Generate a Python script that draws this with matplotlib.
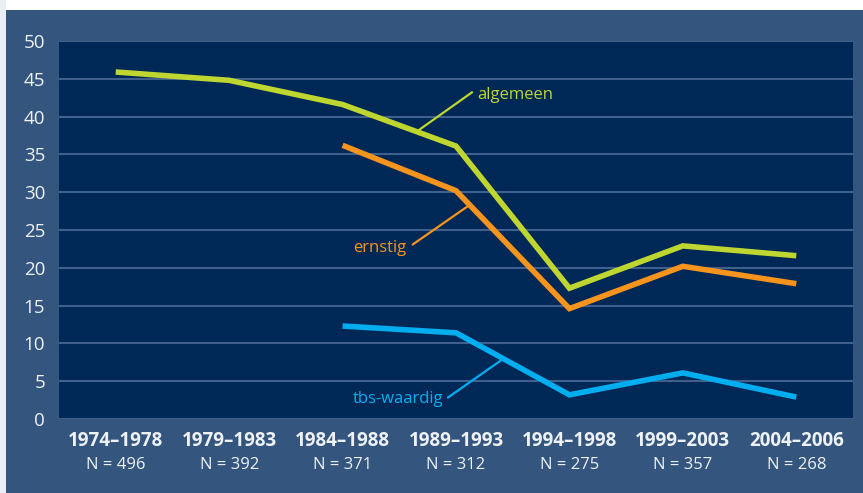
import matplotlib
matplotlib.use("Agg")
import matplotlib.pyplot as plt
from matplotlib.patches import Rectangle
from matplotlib.transforms import blended_transform_factory

periods = ["1974–1978", "1979–1983", "1984–1988", "1989–1993",
           "1994–1998", "1999–2003", "2004–2006"]
n_counts = [496, 392, 371, 312, 275, 357, 268]

algemeen = [45.9, 44.8, 41.6, 36.1, 17.3, 22.9, 21.6]
ernstig = [None, None, 36.2, 30.2, 14.6, 20.2, 17.9]
tbs_waardig = [None, None, 12.3, 11.4, 3.2, 6.1, 2.9]

PANEL = "#34557e"
PLOT_BG = "#002856"
GRID = "#3f5f8c"
TXT = "#eef2f7"
C_ALG = "#bed62f"
C_ERN = "#f7941d"
C_TBS = "#00aeef"

plt.rcParams["font.family"] = ["Open Sans", "DejaVu Sans"]

fig = plt.figure(figsize=(8.63, 4.93), dpi=100)
fig.patch.set_facecolor("white")
# outer panel
fig.patches.append(Rectangle((0, 0), 6 / 863, 1, transform=fig.transFigure,
                             facecolor="#e8eef4", edgecolor="none", zorder=-2))
fig.patches.append(Rectangle((6 / 863, 0), 1, 1 - 10 / 493, transform=fig.transFigure,
                             facecolor=PANEL, edgecolor="none", zorder=-1))

ax = fig.add_axes([59 / 863, 1 - 419 / 493, 794 / 863, 378 / 493])
ax.set_facecolor(PLOT_BG)
for s in ax.spines.values():
    s.set_visible(False)

ax.set_xlim(-0.5, 6.5)
ax.set_ylim(0, 50)
ax.set_yticks(range(0, 51, 5))
ax.yaxis.grid(True, color=GRID, linewidth=1.5)
ax.set_axisbelow(True)
ax.tick_params(axis="y", length=0, pad=10, labelsize=13.5, labelcolor=TXT)
ax.tick_params(axis="x", length=0, labelbottom=False)


def plot_series(vals, color):
    xs = [i for i, v in enumerate(vals) if v is not None]
    ys = [v for v in vals if v is not None]
    ax.plot(xs, ys, color=color, linewidth=4, solid_capstyle="butt",
            solid_joinstyle="miter", zorder=3)


plot_series(algemeen, C_ALG)
plot_series(ernstig, C_ERN)
plot_series(tbs_waardig, C_TBS)

# labels with leader lines (in data coordinates)
ax.plot([2.68, 3.14], [38.3, 43.2], color=C_ALG, linewidth=1.6, zorder=2)
ax.text(3.185, 42.9, "algemeen", color=C_ALG, fontsize=12, va="center", ha="left")
ax.plot([2.62, 3.10], [23.1, 28.1], color=C_ERN, linewidth=1.6, zorder=2)
ax.text(2.56, 22.6, "ernstig", color=C_ERN, fontsize=12, va="center", ha="right")
ax.plot([2.93, 3.41], [2.85, 7.9], color=C_TBS, linewidth=1.6, zorder=2)
ax.text(2.885, 2.6, "tbs-waardig", color=C_TBS, fontsize=12, va="center", ha="right")

trans = blended_transform_factory(ax.transData, fig.transFigure)
for i, (p, n) in enumerate(zip(periods, n_counts)):
    ax.text(i, 1 - 441 / 493, p, transform=trans, ha="center", va="center",
            fontsize=13.5, fontweight="bold", color=TXT)
    ax.text(i, 1 - 465 / 493, f"N = {n}", transform=trans, ha="center",
            va="center", fontsize=12, color=TXT)

fig.savefig("out.png", dpi=100, facecolor=fig.get_facecolor())
